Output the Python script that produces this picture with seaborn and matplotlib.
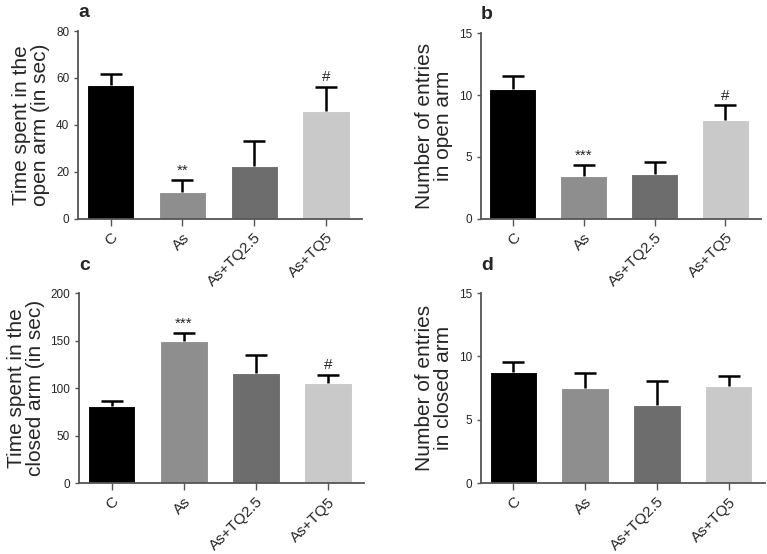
import numpy as np
import pandas as pd
import seaborn as sns
import matplotlib
matplotlib.use("Agg")
import matplotlib.pyplot as plt

sns.set_style("ticks")
plt.rcParams['font.family'] = ['Liberation Sans', 'DejaVu Sans']

groups = ["C", "As", "As+TQ2.5", "As+TQ5"]
colors = ["#000000", "#8e8e8e", "#6d6d6d", "#c9c9c9"]

# mean and upper error (SEM)
open_time = [57.2, 11.5, 22.7, 45.8]
open_time_err = [4.6, 5.2, 10.5, 10.5]
open_entries = [10.48, 3.44, 3.66, 7.96]
open_entries_err = [1.08, 0.89, 0.94, 1.26]
closed_time = [81.2, 149.7, 116.0, 105.0]
closed_time_err = [5.3, 8.1, 18.3, 9.2]
closed_entries = [8.8, 7.49, 6.14, 7.64]
closed_entries_err = [0.72, 1.18, 1.9, 0.82]

panels = [
    ("a", open_time, open_time_err, "Time spent in the\nopen arm (in sec)", 80, 20,
     {"As": "**", "As+TQ5": "#"}, [0.102, 0.605, 0.370, 0.339]),
    ("b", open_entries, open_entries_err, "Number of entries\nin open arm", 15, 5,
     {"As": "***", "As+TQ5": "#"}, [0.627, 0.605, 0.365, 0.335]),
    ("c", closed_time, closed_time_err, "Time spent in the\nclosed arm (in sec)", 200, 50,
     {"As": "***", "As+TQ5": "#"}, [0.103, 0.128, 0.372, 0.343]),
    ("d", closed_entries, closed_entries_err, "Number of entries\nin closed arm", 15, 5,
     {}, [0.627, 0.128, 0.370, 0.343]),
]

fig = plt.figure(figsize=(7.67, 5.54), dpi=100)

for letter, vals, errs, ylabel, ymax, step, marks, pos in panels:
    ax = fig.add_axes(pos)
    df = pd.DataFrame({"group": groups, "value": vals, "err": errs})
    sns.barplot(data=df, x="group", y="value", hue="group", palette=colors,
                width=0.66, errorbar=None, edgecolor="white", linewidth=0.8,
                legend=False, ax=ax)
    # upper error bars only
    eb = ax.errorbar(range(len(groups)), df["value"], yerr=[np.zeros(len(groups)), df["err"]],
                     fmt="none", ecolor="black", elinewidth=1.8, capsize=8, capthick=1.8)
    eb[1][0].set_visible(False)
    for g, txt in marks.items():
        i = groups.index(g)
        top = df["value"][i] + df["err"][i]
        ax.text(i, top + ymax * 0.012, txt, ha="center", va="bottom", fontsize=11)
    ax.set_ylim(0, ymax)
    ax.set_yticks(np.arange(0, ymax + 1, step))
    ax.set_xlim(-0.45, 3.5)
    ax.set_xlabel("")
    ax.set_ylabel(ylabel, fontsize=15, linespacing=1.0)
    sns.despine(ax=ax)
    for s in ["left", "bottom"]:
        ax.spines[s].set_color("#555555")
        ax.spines[s].set_linewidth(1.3)
    ax.tick_params(axis="y", labelsize=8.5, length=3, color="#555555", width=1)
    ax.tick_params(axis="x", labelsize=11, length=5, color="#555555", width=1)
    plt.setp(ax.get_xticklabels(), rotation=45, ha="right", rotation_mode="anchor")
    ax.text(0.0, 1.075 if letter in "ab" else 1.12, letter, transform=ax.transAxes,
            fontsize=14, fontweight="bold", ha="left", va="baseline")

fig.savefig("out.png", dpi=100)
